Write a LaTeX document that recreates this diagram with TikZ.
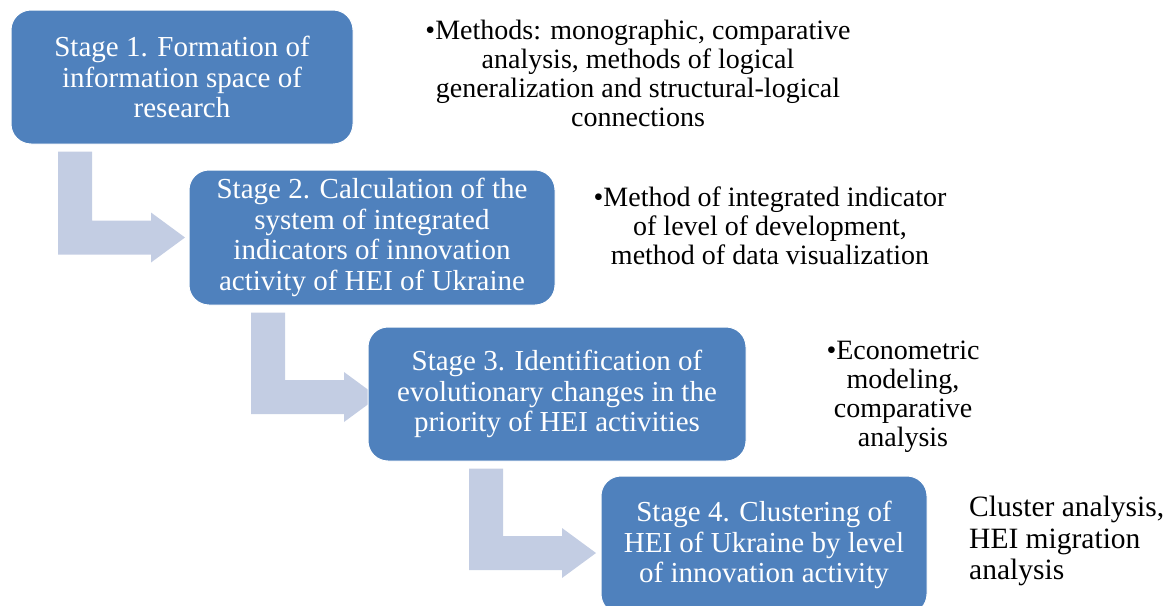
\documentclass[tikz,border=0pt]{standalone}
\usepackage{fontspec}
\setmainfont{Liberation Serif}
\usetikzlibrary{calc,backgrounds}
\definecolor{stageblue}{RGB}{79,129,189}
\definecolor{arrowgray}{RGB}{195,205,227}

% bent arrow from the box above to the box below
\newcommand{\bentarrow}[4]{%
  \begin{pgfonlayer}{background}
  \fill[arrowgray] let \p1=(#1.south), \p2=(#2.west) in
    (#3pt,\y1-7pt) -- (#3pt+34pt,\y1-7pt) -- (#3pt+34pt,\y2+17pt-#4pt)
    -- (#3pt+93pt,\y2+17pt-#4pt) -- (#3pt+93pt,\y2+25pt-#4pt)
    -- (#3pt+127pt,\y2-#4pt) -- (#3pt+93pt,\y2-25pt-#4pt)
    -- (#3pt+93pt,\y2-17pt-#4pt) -- (#3pt,\y2-17pt-#4pt) -- cycle;
  \end{pgfonlayer}}

\begin{document}
\begin{tikzpicture}[x=1pt,y=-1pt,
    stage/.style={rectangle, rounded corners=20pt, fill=stageblue, draw=white,
      line width=1pt, text=white, align=center, inner sep=0pt,
      font=\fontsize{29}{30.5}\selectfont},
    note/.style={align=center, inner sep=0pt, font=\fontsize{28}{29}\selectfont}]
    \useasboundingbox (0,0) rectangle (1169,605);
    \node[stage, minimum width=342pt, minimum height=134pt] (formation) at (182,77)
      {Stage 1. Formation of\\information space of\\research};
    \node[stage, minimum width=366pt, minimum height=135pt] (calculation) at (372,237.5)
      {Stage 2. Calculation of the\\system of integrated\\indicators of innovation\\activity of HEI of Ukraine};
    \node[stage, minimum width=378pt, minimum height=134pt] (identification) at (557,394)
      {Stage 3. Identification of\\evolutionary changes in the\\priority of HEI activities};
    \node[stage, minimum width=326pt, minimum height=138pt] (clustering) at (764,545)
      {Stage 4. Clustering of\\HEI of Ukraine by level\\of innovation activity};
    \bentarrow{formation}{calculation}{58}{0}
    \bentarrow{calculation}{identification}{251}{3}
    \bentarrow{identification}{clustering}{469}{8}
    \node[note] (methods1) at (638,73)
      {•Methods: monographic, comparative\\analysis, methods of logical\\generalization and structural-logical\\connections};
    \node[note] (methods2) at (770,226)
      {•Method of integrated indicator\\of level of development,\\method of data visualization};
    \node[note] (methods3) at (903,397)
      {•Econometric\\modeling,\\comparative\\analysis};
    \node[note, align=left, anchor=west, font=\fontsize{29.5}{31.5}\selectfont] (methods4) at (969,541)
      {Cluster analysis,\\HEI migration\\analysis};
\end{tikzpicture}
\end{document}
